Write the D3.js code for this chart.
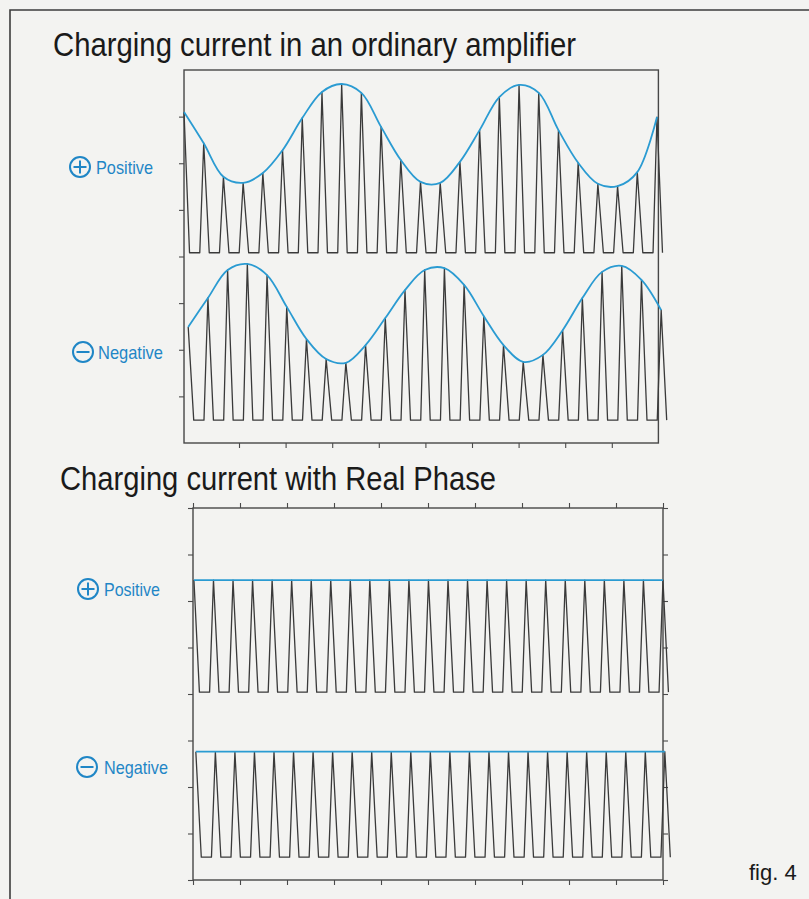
<!DOCTYPE html>
<html>
<head>
<meta charset="utf-8">
<script src="https://cdn.jsdelivr.net/npm/d3@7"></script>
<style>
  html, body { margin: 0; padding: 0; background: #f3f3f1; }
  svg { display: block; }
</style>
</head>
<body>
<svg id="chart" width="809" height="899"></svg>
<script>
// ---- Data ---------------------------------------------------------------
const titles = ["Charging current in an ordinary amplifier", "Charging current with Real Phase"];
const seriesNames = ["Positive", "Negative"];
const figureLabel = "fig. 4";

// Peak of each charging pulse (one per rectifier pulse), ordinary amplifier
const ordinaryPositive = [7.10, 6.43, 5.71, 5.58, 5.79, 6.28, 6.97, 7.53, 7.70, 7.51, 6.78, 6.07, 5.60,
                          5.58, 6.03, 6.71, 7.42, 7.68, 7.51, 6.71, 6.01, 5.56, 5.51, 5.81, 6.99];
const ordinaryNegative = [2.49, 3.11, 3.71, 3.84, 3.60, 2.92, 2.23, 1.80, 1.72, 2.10, 2.68, 3.28, 3.71,
                          3.75, 3.39, 2.72, 2.10, 1.74, 1.89, 2.42, 3.11, 3.67, 3.80, 3.50, 2.85];
// Peak of each charging pulse with Real Phase
const realPositive = [6.45, 6.45, 6.45, 6.45, 6.45, 6.45, 6.45, 6.45, 6.45, 6.45, 6.45, 6.45, 6.45,
                      6.45, 6.45, 6.45, 6.45, 6.45, 6.45, 6.45, 6.45, 6.45, 6.45, 6.45, 6.45];
const realNegative = [2.76, 2.76, 2.76, 2.76, 2.76, 2.76, 2.76, 2.76, 2.76, 2.76, 2.76, 2.76, 2.76,
                      2.76, 2.76, 2.76, 2.76, 2.76, 2.76, 2.76, 2.76, 2.76, 2.76, 2.76, 2.76];

// Resting current between pulses [positive, negative]
const ordinaryBaselines = [4.08, 0.49];
const realBaselines = [4.04, 0.49];

// Time of the first pulse [positive, negative] and pulse spacing
const ordinaryPulseStart = [-0.18, -0.09];
const ordinaryPulseSpacing = 0.4229;
const realPulseStart = [0.02, 0.06];
const realPulseSpacing = 0.4158;

// Axis ticks
const ordinaryXTicks = [1, 2, 3, 4, 5, 6, 7, 8, 9];
const ordinaryYTicks = [1, 2, 3, 4, 5, 6, 7];
const realXTicks = [0, 1, 2, 3, 4, 5, 6, 7, 8, 9, 10];
const realYTicks = [0, 1, 2, 3, 4, 5, 6, 7, 8];

// ---- Styles -------------------------------------------------------------
const FONT = "'Liberation Sans', Arial, Helvetica, sans-serif";
const INK = "#3a3a3a";
const BLUE = "#1f86c6";
const ENVELOPE = "#2a9bd2";

const svg = d3.select("#chart");

// Page frame
svg.append("path")
  .attr("d", "M10,899V10H809")
  .attr("fill", "none")
  .attr("stroke", "#3c3c3c")
  .attr("stroke-width", 1.6);

const panels = [
  {
    title: titles[0], titleX: 53, titleY: 56, titleLen: 523,
    xRange: [192.4, 658.4], yRange: [443, 70], frameXMin: -0.18,
    xTicks: ordinaryXTicks, yTicks: ordinaryYTicks, allSides: false,
    peaks: [ordinaryPositive, ordinaryNegative],
    baselines: ordinaryBaselines, starts: ordinaryPulseStart, spacing: ordinaryPulseSpacing,
    curve: d3.curveCatmullRom.alpha(0.5),
    labels: [
      { cx: 80, cy: 167, tx: 96, len: 57 },
      { cx: 83, cy: 352, tx: 98, len: 65 }
    ]
  },
  {
    title: titles[1], titleX: 60, titleY: 490, titleLen: 436,
    xRange: [193, 663], yRange: [880, 508], frameXMin: 0,
    xTicks: realXTicks, yTicks: realYTicks, allSides: true,
    peaks: [realPositive, realNegative],
    baselines: realBaselines, starts: realPulseStart, spacing: realPulseSpacing,
    curve: d3.curveLinear,
    labels: [
      { cx: 88, cy: 589, tx: 104, len: 56 },
      { cx: 87, cy: 767, tx: 104, len: 64 }
    ]
  }
];

// Shape of one pulse, as fractions of the pulse spacing
const FALL = 0.28;   // peak -> rest
const REST = 0.80;   // end of the flat rest, start of the rise

panels.forEach(p => {
  const x = d3.scaleLinear().domain([0, 10]).range(p.xRange);
  const y = d3.scaleLinear().domain([0, 8]).range(p.yRange);
  const g = svg.append("g");

  // Title
  svg.append("text")
    .attr("x", p.titleX).attr("y", p.titleY)
    .attr("textLength", p.titleLen).attr("lengthAdjust", "spacingAndGlyphs")
    .attr("font-family", FONT).attr("font-size", 33)
    .attr("fill", "#1a1a1a")
    .text(p.title);

  // Frame
  const fx0 = x(p.frameXMin), fx1 = x(10), fy0 = y(0), fy1 = y(8);
  g.append("rect")
    .attr("x", fx0).attr("y", fy1)
    .attr("width", fx1 - fx0).attr("height", fy0 - fy1)
    .attr("fill", "none").attr("stroke", "#474747").attr("stroke-width", 1.4);

  // Tick marks
  const tickStyle = sel => {
    sel.select(".domain").remove();
    sel.selectAll(".tick line").attr("stroke", "#4a4a4a").attr("stroke-width", 1.1);
  };
  g.append("g").attr("transform", `translate(0,${fy0})`)
    .call(d3.axisBottom(x).tickValues(p.xTicks).tickSize(5).tickFormat(""))
    .call(tickStyle);
  g.append("g").attr("transform", `translate(${fx0},0)`)
    .call(d3.axisLeft(y).tickValues(p.yTicks).tickSize(5).tickFormat(""))
    .call(tickStyle);
  if (p.allSides) {
    g.append("g").attr("transform", `translate(0,${fy1})`)
      .call(d3.axisTop(x).tickValues(p.xTicks).tickSize(5).tickFormat(""))
      .call(tickStyle);
    g.append("g").attr("transform", `translate(${fx1},0)`)
      .call(d3.axisRight(y).tickValues(p.yTicks).tickSize(5).tickFormat(""))
      .call(tickStyle);
  }

  // Pulses and their envelopes
  p.peaks.forEach((vals, si) => {
    const base = p.baselines[si];
    const t0 = p.starts[si];
    const s = p.spacing;
    const pts = [];
    vals.forEach((v, k) => {
      const t = t0 + k * s;
      pts.push([t, v]);
      pts.push([t + FALL * s, base]);
      if (k < vals.length - 1) pts.push([t + REST * s, base]);
    });
    const line = d3.line().x(d => x(d[0])).y(d => y(d[1]));
    g.append("path")
      .attr("d", line(pts))
      .attr("fill", "none")
      .attr("stroke", INK)
      .attr("stroke-width", 1.3)
      .attr("stroke-linejoin", "round");

    const env = vals.map((v, k) => [t0 + k * s, v]);
    g.append("path")
      .attr("d", d3.line().x(d => x(d[0])).y(d => y(d[1])).curve(p.curve)(env))
      .attr("fill", "none")
      .attr("stroke", ENVELOPE)
      .attr("stroke-width", 1.8);

    // Series label with circled sign
    const L = p.labels[si];
    const lg = svg.append("g");
    lg.append("circle")
      .attr("cx", L.cx).attr("cy", L.cy).attr("r", 10)
      .attr("fill", "none").attr("stroke", BLUE).attr("stroke-width", 2);
    lg.append("line")
      .attr("x1", L.cx - 6.5).attr("x2", L.cx + 6.5)
      .attr("y1", L.cy).attr("y2", L.cy)
      .attr("stroke", BLUE).attr("stroke-width", 2);
    if (si === 0) {
      lg.append("line")
        .attr("x1", L.cx).attr("x2", L.cx)
        .attr("y1", L.cy - 6.5).attr("y2", L.cy + 6.5)
        .attr("stroke", BLUE).attr("stroke-width", 2);
    }
    lg.append("text")
      .attr("x", L.tx).attr("y", L.cy + 6.5)
      .attr("textLength", L.len).attr("lengthAdjust", "spacingAndGlyphs")
      .attr("font-family", FONT).attr("font-size", 18.5)
      .attr("fill", BLUE)
      .text(seriesNames[si]);
  });
});

// Figure number
svg.append("text")
  .attr("x", 749).attr("y", 880)
  .attr("font-family", FONT).attr("font-size", 22)
  .attr("fill", "#1a1a1a")
  .text(figureLabel);
</script>
</body>
</html>
